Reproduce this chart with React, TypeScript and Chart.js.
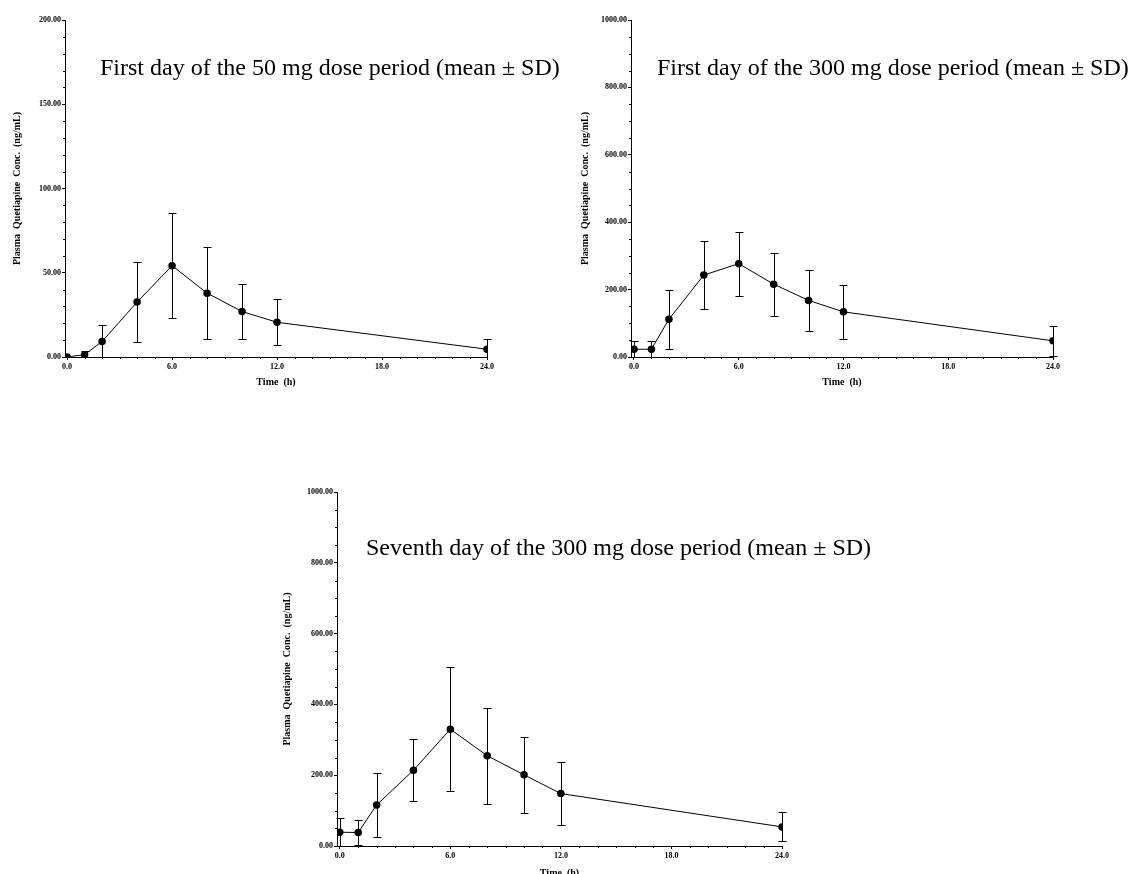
import React, { useEffect, useRef } from 'react';
import { Chart, registerables } from 'chart.js';

Chart.register(...registerables);

// ---------- data ----------
const timeHours = [0, 1, 2, 4, 6, 8, 10, 12, 24];

const day1Dose50Mean = [0, 1.4, 9.2, 32.6, 54.2, 37.9, 27.0, 20.6, 4.6];
const day1Dose50Sd = [0, 2.4, 9.8, 23.8, 31.0, 27.1, 16.5, 13.6, 6.1];

const day1Dose300Mean = [23, 23, 112, 243, 277, 216, 168, 134, 48];
const day1Dose300Sd = [24, 24, 88, 101, 95, 94, 91, 80, 45];

const day7Dose300Mean = [39, 38, 116, 214, 330, 255, 201, 148, 54];
const day7Dose300Sd = [41, 35, 91, 88, 175, 136, 107, 88, 41];

const xTickValues = [0, 6, 12, 18, 24];
const yTicksLow = [0, 50, 100, 150, 200];
const yTicksHigh = [0, 200, 400, 600, 800, 1000];

const titleDay1Dose50 = 'First day of the 50 mg dose period (mean \u00b1 SD)';
const titleDay1Dose300 = 'First day of the 300 mg dose period (mean \u00b1 SD)';
const titleDay7Dose300 = 'Seventh day of the 300 mg dose period (mean \u00b1 SD)';

const xAxisTitle = 'Time  (h)';
const yAxisTitle = 'Plasma  Quetiapine  Conc.  (ng/mL)';

// ---------- layout ----------
type PanelSpec = {
  left: number;
  top: number;
  width: number;
  height: number;
  padding: { left: number; top: number; right: number; bottom: number };
  yAxisWidth: number;
  xAxisHeight: number;
  xMin: number;
  xMax: number;
  xMinorStep: number;
  yMax: number;
  yTicks: number[];
  yMinorStep: number;
  mean: number[];
  sd: number[];
  title: string;
  titleX: number;
  titleY: number;
  yTitlePad: number;
  xTitlePad: number;
};

const FONT = '"Liberation Serif", "Times New Roman", serif';

const panels: PanelSpec[] = [
  {
    left: 0, top: 0, width: 560, height: 400,
    padding: { left: 0, top: 20, right: 73, bottom: 0 },
    yAxisWidth: 65, xAxisHeight: 43,
    xMin: -0.12, xMax: 24, xMinorStep: 1,
    yMax: 200, yTicks: yTicksLow, yMinorStep: 10,
    mean: day1Dose50Mean, sd: day1Dose50Sd,
    title: titleDay1Dose50, titleX: 100, titleY: 75,
    yTitlePad: 11, xTitlePad: 12,
  },
  {
    left: 566, top: 0, width: 566, height: 400,
    padding: { left: 0, top: 20, right: 79, bottom: 0 },
    yAxisWidth: 65, xAxisHeight: 43,
    xMin: -0.17, xMax: 24, xMinorStep: 1,
    yMax: 1000, yTicks: yTicksHigh, yMinorStep: 50,
    mean: day1Dose300Mean, sd: day1Dose300Sd,
    title: titleDay1Dose300, titleX: 91, titleY: 75,
    yTitlePad: 13, xTitlePad: 12,
  },
  {
    left: 272, top: 470, width: 640, height: 420,
    padding: { left: 0, top: 22, right: 130, bottom: 0 },
    yAxisWidth: 65, xAxisHeight: 44,
    xMin: -0.15, xMax: 24, xMinorStep: 1,
    yMax: 1000, yTicks: yTicksHigh, yMinorStep: 50,
    mean: day7Dose300Mean, sd: day7Dose300Sd,
    title: titleDay7Dose300, titleX: 94, titleY: 85,
    yTitlePad: 9, xTitlePad: 11,
  },
];

function buildChart(canvas: HTMLCanvasElement, spec: PanelSpec) {
  const errorBars = {
    id: 'errorBars',
    beforeDatasetsDraw(chart: any) {
      const { ctx, scales } = chart;
      const xs = scales.x;
      const ys = scales.y;
      ctx.save();
      ctx.strokeStyle = '#000';
      ctx.lineWidth = 1;
      ctx.beginPath();
      spec.mean.forEach((m, i) => {
        const s = spec.sd[i];
        if (!s) return;
        const px = Math.round(xs.getPixelForValue(timeHours[i])) + 0.5;
        const top = Math.round(ys.getPixelForValue(m + s)) + 0.5;
        const low = m - s;
        const bot = Math.round(ys.getPixelForValue(Math.max(low, 0))) + 0.5;
        ctx.moveTo(px, top);
        ctx.lineTo(px, bot);
        ctx.moveTo(px - 4, top);
        ctx.lineTo(px + 4, top);
        if (low > 0) {
          ctx.moveTo(px - 4, bot);
          ctx.lineTo(px + 4, bot);
        }
      });
      ctx.stroke();
      ctx.restore();
    },
  };

  const minorTicks = {
    id: 'minorTicks',
    afterDraw(chart: any) {
      const { ctx, chartArea, scales } = chart;
      const xs = scales.x;
      const ys = scales.y;
      ctx.save();
      ctx.strokeStyle = '#000';
      ctx.lineWidth = 1;
      ctx.beginPath();
      const nx = Math.round(spec.xMax / spec.xMinorStep);
      for (let k = 0; k <= nx; k++) {
        const v = k * spec.xMinorStep;
        if (xTickValues.includes(v)) continue;
        const px = Math.round(xs.getPixelForValue(v)) + 0.5;
        ctx.moveTo(px, chartArea.bottom);
        ctx.lineTo(px, chartArea.bottom + 2);
      }
      const ny = Math.round(spec.yMax / spec.yMinorStep);
      for (let k = 0; k <= ny; k++) {
        const v = k * spec.yMinorStep;
        if (spec.yTicks.includes(v)) continue;
        const py = Math.round(ys.getPixelForValue(v)) + 0.5;
        ctx.moveTo(chartArea.left, py);
        ctx.lineTo(chartArea.left - 2, py);
      }
      ctx.stroke();
      ctx.restore();
    },
  };

  const innerTitle = {
    id: 'innerTitle',
    afterDraw(chart: any) {
      const { ctx } = chart;
      ctx.save();
      ctx.font = `24px ${FONT}`;
      ctx.fillStyle = '#000';
      ctx.textAlign = 'left';
      ctx.textBaseline = 'alphabetic';
      ctx.fillText(spec.title, spec.titleX, spec.titleY);
      ctx.restore();
    },
  };

  const tickFont = { family: FONT, size: 8, weight: 'bold' as const };
  const titleFont = { family: FONT, size: 10, weight: 'bold' as const };

  return new Chart(canvas, {
    type: 'line',
    data: {
      datasets: [
        {
          data: timeHours.map((t, i) => ({ x: t, y: spec.mean[i] })),
          borderColor: '#000',
          borderWidth: 1,
          pointRadius: 3.75,
          pointBackgroundColor: '#000',
          pointBorderColor: '#000',
          pointBorderWidth: 0,
          tension: 0,
          fill: false,
        },
      ],
    },
    options: {
      responsive: false,
      animation: false,
      events: [],
      layout: { padding: spec.padding },
      plugins: {
        legend: { display: false },
        tooltip: { enabled: false },
        title: { display: false },
      },
      scales: {
        x: {
          type: 'linear',
          min: spec.xMin,
          max: spec.xMax,
          afterBuildTicks: (s: any) => {
            s.ticks = xTickValues.map((v) => ({ value: v }));
          },
          afterFit: (s: any) => {
            s.height = spec.xAxisHeight;
          },
          grid: {
            display: true,
            drawOnChartArea: false,
            drawTicks: true,
            tickLength: 3,
            color: '#000',
            tickColor: '#000',
          },
          border: { display: true, color: '#000', width: 1 },
          ticks: {
            color: '#000',
            font: tickFont,
            padding: 2,
            maxRotation: 0,
            autoSkip: false,
            callback: (v: any) => Number(v).toFixed(1),
          },
          title: {
            display: true,
            text: xAxisTitle,
            color: '#000',
            font: titleFont,
            padding: { top: 0, bottom: spec.xTitlePad },
          },
        },
        y: {
          type: 'linear',
          min: 0,
          max: spec.yMax,
          afterBuildTicks: (s: any) => {
            s.ticks = spec.yTicks.map((v) => ({ value: v }));
          },
          afterFit: (s: any) => {
            s.width = spec.yAxisWidth;
          },
          grid: {
            display: true,
            drawOnChartArea: false,
            drawTicks: true,
            tickLength: 3,
            color: '#000',
            tickColor: '#000',
          },
          border: { display: true, color: '#000', width: 1 },
          ticks: {
            color: '#000',
            font: tickFont,
            padding: 1,
            autoSkip: false,
            callback: (v: any) => Number(v).toFixed(2),
          },
          title: {
            display: true,
            text: yAxisTitle,
            color: '#000',
            font: titleFont,
            padding: { top: spec.yTitlePad, bottom: 0 },
          },
        },
      },
    },
    plugins: [errorBars, minorTicks, innerTitle],
  } as any);
}

function Panel({ spec }: { spec: PanelSpec }) {
  const ref = useRef<HTMLCanvasElement | null>(null);
  useEffect(() => {
    if (!ref.current) return;
    const chart = buildChart(ref.current, spec);
    return () => chart.destroy();
  }, [spec]);
  return (
    <canvas
      ref={ref}
      width={spec.width}
      height={spec.height}
      style={{
        position: 'absolute',
        left: spec.left,
        top: spec.top,
        width: spec.width,
        height: spec.height,
        display: 'block',
      }}
    />
  );
}

export default function App() {
  return (
    <div
      style={{
        position: 'absolute',
        left: 0,
        top: 0,
        width: 1132,
        height: 874,
        overflow: 'hidden',
        background: '#fff',
      }}
    >
      {panels.map((p, i) => (
        <Panel key={i} spec={p} />
      ))}
    </div>
  );
}
